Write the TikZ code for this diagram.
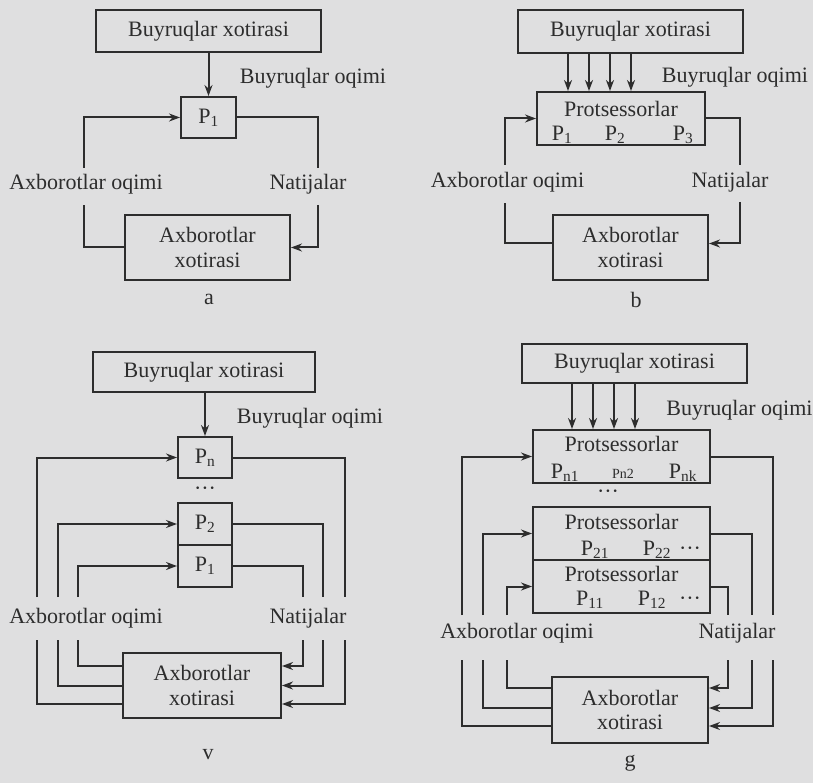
\documentclass[tikz,border=0pt]{standalone}
\usepackage{fontspec}
\setmainfont{Liberation Serif}
\usetikzlibrary{arrows.meta}
\definecolor{bg}{RGB}{223,223,224}
\definecolor{ink}{RGB}{45,45,45}
\newcommand\myfz{\fontsize{22}{24.5}\selectfont}
\newcommand\mysmall{\fontsize{14}{14}\selectfont}
\begin{document}
\begin{tikzpicture}[x=1pt,y=-1pt,
  ln/.style={draw=ink,line width=2pt},
  arr/.style={ln,-{Stealth[length=11pt,width=8pt]}},
  box/.style={draw=ink,line width=2pt,inner sep=0pt,align=center,text=ink,font=\myfz},
  txt/.style={text=ink,inner sep=0pt,font=\myfz},
]
\fill[bg] (0,0) rectangle (813,783);
\useasboundingbox (0,0) rectangle (813,783);

% ---------------- panel a ----------------
\node[box,minimum width=225pt,minimum height=42pt] (bxA) at (208.5,31.5) {Buyruqlar xotirasi};
\node[box,minimum width=55pt,minimum height=41pt] (p1A) at (208.5,117.5) {P\textsubscript{1}};
\node[box,minimum width=165pt,minimum height=65pt] (axA) at (207.5,247.5) {Axborotlar\\xotirasi};
\node[txt] (boA) at (313,78) {Buyruqlar oqimi};
\node[txt] (aoA) at (86,184) {Axborotlar oqimi};
\node[txt] (nA) at (308,184) {Natijalar};
\node[txt] (capA) at (209,299) {a};
\coordinate (aA1) at (84,168);
\coordinate (aA2) at (84,205);
\coordinate (nA1) at (318,168);
\coordinate (nA2) at (318,205);
\draw[arr] (bxA) -- (p1A);
\draw[arr] (aA1) |- (p1A.west);
\draw[ln] (axA.west) -| (aA2);
\draw[ln] (p1A.east) -| (nA1);
\draw[arr] (nA2) |- (axA.east);

% ---------------- panel b ----------------
\node[box,minimum width=225pt,minimum height=43pt] (bxB) at (630.5,31.5) {Buyruqlar xotirasi};
\node[box,minimum width=168pt,minimum height=53pt] (prB) at (621,118.5) {};
\node[txt,anchor=base] (prBt) at (621,117) {Protsessorlar};
\node[txt,anchor=base] (pB1) at (562,140.5) {P\textsubscript{1}};
\node[txt,anchor=base] (pB2) at (615,140.5) {P\textsubscript{2}};
\node[txt,anchor=base] (pB3) at (683,140.5) {P\textsubscript{3}};
\foreach \xx in {568,589,610,631}
  \draw[arr] (\xx,0 |- bxB.south) -- (\xx,0 |- prB.north);
\node[txt] (boB) at (735,77) {Buyruqlar oqimi};
\node[box,minimum width=155pt,minimum height=65pt] (axB) at (630.5,247.5) {Axborotlar\\xotirasi};
\node[txt] (aoB) at (507.5,182) {Axborotlar oqimi};
\node[txt] (nB) at (730,182) {Natijalar};
\node[txt] (capB) at (636,300) {b};
\coordinate (aB1) at (505,165);
\coordinate (aB2) at (505,203);
\coordinate (nB1) at (740,165);
\coordinate (nB2) at (740,202);
\draw[arr] (aB1) |- (prB.west);
\draw[ln] ([yshift=4pt]axB.west) -| (aB2);
\draw[ln] (prB.east) -| (nB1);
\draw[arr] (nB2) |- ([yshift=4pt]axB.east);

% ---------------- panel v ----------------
\node[box,minimum width=222pt,minimum height=40pt] (bxV) at (204,372) {Buyruqlar xotirasi};
\node[box,minimum width=54pt,minimum height=41pt] (pnV) at (205,457.5) {P\textsubscript{n}};
\node[txt] (dV) at (205,491) {···};
\node[box,minimum width=54pt,minimum height=42pt] (p2V) at (205,524) {P\textsubscript{2}};
\node[box,minimum width=54pt,minimum height=42pt] (p1V) at (205,566) {P\textsubscript{1}};
\node[txt] (boV) at (310,418) {Buyruqlar oqimi};
\node[box,minimum width=158pt,minimum height=65pt] (axV) at (202,685.5) {Axborotlar\\xotirasi};
\node[txt] (aoV) at (86,618) {Axborotlar oqimi};
\node[txt] (nV) at (308,618) {Natijalar};
\node[txt] (capV) at (208,755) {v};
\draw[arr] (pnV.north |- bxV.south) -- (pnV.north);
\coordinate (vA1t) at (37,597);  \coordinate (vA1b) at (37,640);
\coordinate (vA2t) at (58,597);  \coordinate (vA2b) at (58,640);
\coordinate (vA3t) at (78,597);  \coordinate (vA3b) at (78,640);
\coordinate (vN1t) at (345,597); \coordinate (vN1b) at (345,640);
\coordinate (vN2t) at (323,597); \coordinate (vN2b) at (323,640);
\coordinate (vN3t) at (303,597); \coordinate (vN3b) at (303,640);
\draw[arr] (vA1t) |- (pnV.west);
\draw[arr] (vA2t) |- (p2V.west);
\draw[arr] (vA3t) |- (p1V.west);
\draw[ln] ([yshift=19.5pt]axV.west) -| (vA3b);
\draw[ln] (axV.west) -| (vA2b);
\draw[ln] ([yshift=-18.5pt]axV.west) -| (vA1b);
\draw[ln] (pnV.east) -| (vN1t);
\draw[ln] (p2V.east) -| (vN2t);
\draw[ln] (p1V.east) -| (vN3t);
\draw[arr] (vN3b) |- ([yshift=19.5pt]axV.east);
\draw[arr] (vN2b) |- (axV.east);
\draw[arr] (vN1b) |- ([yshift=-18.5pt]axV.east);

% ---------------- panel g ----------------
\node[box,minimum width=225pt,minimum height=39pt] (bxG) at (634.5,363.5) {Buyruqlar xotirasi};
\node[box,minimum width=177pt,minimum height=53pt] (pr3G) at (621.5,456.5) {};
\node[box,minimum width=177pt,minimum height=53pt] (pr2G) at (621.5,533.5) {};
\node[box,minimum width=177pt,minimum height=53pt] (pr1G) at (621.5,586.5) {};
\node[txt,anchor=base] (t3G) at (621.5,451) {Protsessorlar};
\node[txt,anchor=base] (pn1G) at (565,478) {P\textsubscript{n1}};
\node[txt,anchor=base] (pn2G) at (623,478) {\mysmall Pn2};
\node[txt,anchor=base] (pnkG) at (683,478) {P\textsubscript{nk}};
\node[txt] (dG) at (608,494) {···};
\node[txt,anchor=base] (t2G) at (621.5,529) {Protsessorlar};
\node[txt,anchor=base] (p21G) at (595,555) {P\textsubscript{21}};
\node[txt,anchor=base] (p22G) at (657,555) {P\textsubscript{22}};
\node[txt,anchor=base] (d2G) at (690,555) {···};
\node[txt,anchor=base] (t1G) at (621.5,581) {Protsessorlar};
\node[txt,anchor=base] (p11G) at (590,605) {P\textsubscript{11}};
\node[txt,anchor=base] (p12G) at (652,605) {P\textsubscript{12}};
\node[txt,anchor=base] (d1G) at (690,605) {···};
\foreach \xx in {572,593,614,635}
  \draw[arr] (\xx,0 |- bxG.south) -- (\xx,0 |- pr3G.north);
\node[txt] (boG) at (739.5,410) {Buyruqlar oqimi};
\node[box,minimum width=156pt,minimum height=66pt] (axG) at (630,710) {Axborotlar\\xotirasi};
\node[txt] (aoG) at (517,633) {Axborotlar oqimi};
\node[txt] (nG) at (737,633) {Natijalar};
\node[txt] (capG) at (630,763) {g};
\coordinate (gA1t) at (462,615); \coordinate (gA1b) at (462,660);
\coordinate (gA2t) at (483,615); \coordinate (gA2b) at (483,660);
\coordinate (gA3t) at (507,615); \coordinate (gA3b) at (507,660);
\coordinate (gN1t) at (773,615); \coordinate (gN1b) at (773,660);
\coordinate (gN2t) at (752,615); \coordinate (gN2b) at (752,660);
\coordinate (gN3t) at (728,615); \coordinate (gN3b) at (728,660);
\draw[arr] (gA1t) |- (pr3G.west);
\draw[arr] (gA2t) |- (pr2G.west);
\draw[arr] (gA3t) |- (pr1G.west);
\draw[ln] ([yshift=22pt]axG.west) -| (gA3b);
\draw[ln] ([yshift=2pt]axG.west) -| (gA2b);
\draw[ln] ([yshift=-16pt]axG.west) -| (gA1b);
\draw[ln] (pr3G.east) -| (gN1t);
\draw[ln] (pr2G.east) -| (gN2t);
\draw[ln] (pr1G.east) -| (gN3t);
\draw[arr] (gN3b) |- ([yshift=22pt]axG.east);
\draw[arr] (gN2b) |- ([yshift=2pt]axG.east);
\draw[arr] (gN1b) |- ([yshift=-16pt]axG.east);
\end{tikzpicture}
\end{document}
